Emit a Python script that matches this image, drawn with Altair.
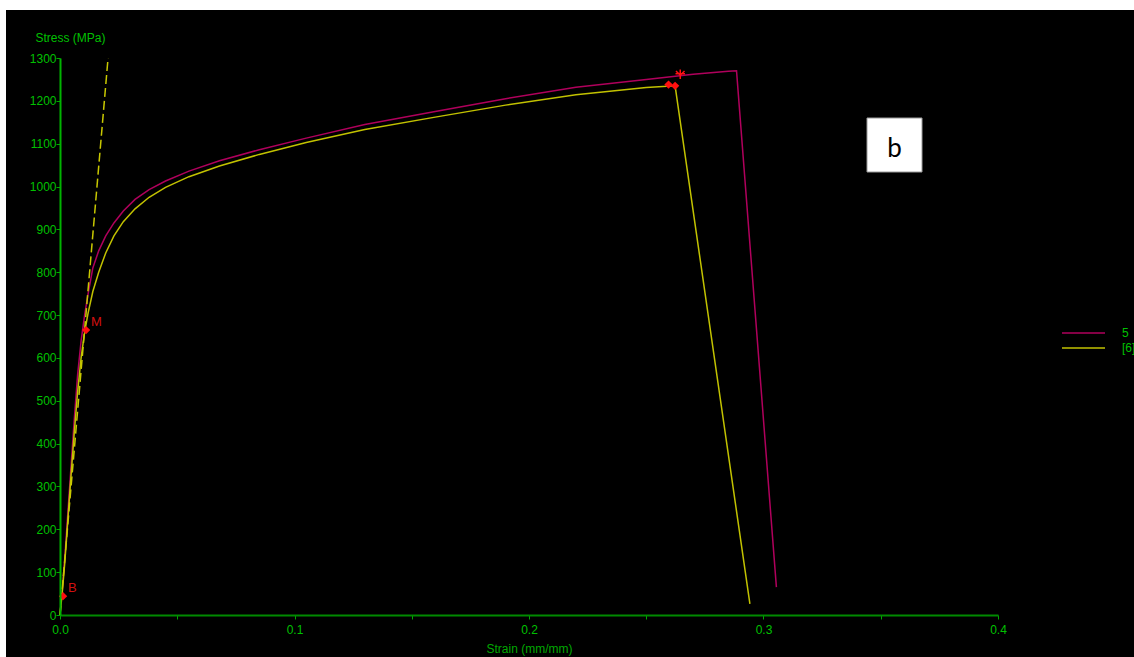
import altair as alt
import pandas as pd

# ---- test data: engineering stress-strain curves of two tensile specimens ----
series_names = ["5", "[6]"]
series_colors = ["#b0005c", "#c2c200"]

strain_5 = [0.0, 0.0010, 0.0020, 0.0030, 0.0045, 0.0060, 0.0075, 0.0090, 0.0105,
            0.0120, 0.0140, 0.0165, 0.0195, 0.0230, 0.0270, 0.0320, 0.0380, 0.0450,
            0.0550, 0.0680, 0.0850, 0.1050, 0.1300, 0.1600, 0.1900, 0.2200, 0.2500,
            0.2700, 0.2850, 0.2885, 0.3055]
stress_5 = [0, 60, 130, 210, 330, 450, 560, 640, 700,
            750, 810, 850, 885, 915, 943, 970, 993, 1013,
            1036, 1060, 1086, 1113, 1145, 1175, 1205, 1232, 1250,
            1262, 1269, 1270, 65]

strain_6 = [0.0, 0.0010, 0.0020, 0.0030, 0.0045, 0.0060, 0.0075, 0.0090, 0.0105,
            0.0120, 0.0140, 0.0165, 0.0195, 0.0230, 0.0270, 0.0320, 0.0380, 0.0450,
            0.0550, 0.0680, 0.0850, 0.1050, 0.1300, 0.1600, 0.1900, 0.2200, 0.2500,
            0.2623, 0.2942]
stress_6 = [0, 55, 120, 195, 310, 420, 520, 600, 660,
            705, 755, 800, 845, 885, 918, 948, 975, 998,
            1023, 1048, 1075, 1103, 1133, 1162, 1190, 1214, 1231,
            1235, 26]

# elastic modulus construction line
modulus_strain = [0.0, 0.0205]
modulus_stress = [0, 1300]

# analysis points (break-in, modulus, peak load)
marker_labels = ["B", "M", "", ""]
marker_strain = [0.0013, 0.0111, 0.2595, 0.2623]
marker_stress = [44, 665, 1238, 1235]

# fracture point
fracture_strain = [0.2645]
fracture_stress = [1262]

x_ticks = [0.0, 0.05, 0.1, 0.15, 0.2, 0.25, 0.3, 0.35, 0.4]
y_ticks = list(range(0, 1301, 50))

panel_label = "b"

# ---- tables ----
curves = pd.concat([
    pd.DataFrame({"strain": strain_5, "stress": stress_5, "specimen": series_names[0],
                  "step": range(len(strain_5))}),
    pd.DataFrame({"strain": strain_6, "stress": stress_6, "specimen": series_names[1],
                  "step": range(len(strain_6))}),
], ignore_index=True)
modulus = pd.DataFrame({"strain": modulus_strain, "stress": modulus_stress})
markers = pd.DataFrame({"strain": marker_strain, "stress": marker_stress, "label": marker_labels})
fracture = pd.DataFrame({"strain": fracture_strain, "stress": fracture_stress})
one_row = pd.DataFrame({"k": [0]})

FONT = "Liberation Sans"
GREEN = "#00c000"
AXIS_GREEN = "#00a800"

x_scale = alt.Scale(domain=[0, 0.4], nice=False, zero=False)
y_scale = alt.Scale(domain=[0, 1300], nice=False)

x_axis = alt.Axis(
    values=x_ticks,
    labelExpr="abs(datum.value * 10 - round(datum.value * 10)) < 0.001 ? format(datum.value, '.1f') : ''",
    grid=False, domainColor="#008a00", domainWidth=2, tickColor=AXIS_GREEN, tickSize=4,
    labelColor=GREEN, labelFont=FONT, labelFontSize=12, labelPadding=5, labelFlush=False,
    title="Strain (mm/mm)", titleColor="#00a800", titleFont=FONT, titleFontSize=12,
    titleFontWeight="normal", titleBaseline="middle", titleY=33, zindex=1,
)
y_axis = alt.Axis(
    values=y_ticks,
    labelExpr="datum.value % 100 == 0 ? format(datum.value, 'd') : ''",
    grid=False, domainColor="#00b400", domainWidth=2, tickColor=AXIS_GREEN, tickSize=4,
    labelColor=GREEN, labelFont=FONT, labelFontSize=12, labelPadding=0, labelFlush=False,
    title="Stress (MPa)", titleColor=GREEN, titleFont=FONT, titleFontSize=12,
    titleFontWeight="normal", titleAngle=0, titleAlign="center", titleBaseline="middle",
    titleX=10, titleY=-21, zindex=1,
)

# black instrument-screen backdrop
backdrop = alt.Chart(one_row).mark_rect(color="black").encode(
    x=alt.value(-54), x2=alt.value(1074), y=alt.value(-48), y2=alt.value(599)
)

lines = alt.Chart(curves).mark_line(strokeWidth=1.5).encode(
    x=alt.X("strain:Q", scale=x_scale, axis=x_axis),
    y=alt.Y("stress:Q", scale=y_scale, axis=y_axis),
    color=alt.Color(
        "specimen:N",
        scale=alt.Scale(domain=series_names, range=series_colors),
        legend=alt.Legend(
            title=None, orient="none", legendX=1001, legendY=269, padding=0,
            symbolType="M-1,0H7.6", symbolSize=100, symbolStrokeWidth=1.5,
            labelOffset=49, labelColor=GREEN, labelFont=FONT, labelFontSize=12,
            rowPadding=3,
        ),
    ),
    order="step:Q",
)

modulus_line = alt.Chart(modulus).mark_line(
    color="#c8c800", strokeWidth=1.5, strokeDash=[9, 4]
).encode(x="strain:Q", y="stress:Q")

marker_pts = alt.Chart(markers).mark_point(
    shape="diamond", filled=True, color="#ff1010", size=70, opacity=1
).encode(x="strain:Q", y="stress:Q")

marker_text = alt.Chart(markers).mark_text(
    align="left", baseline="middle", dx=5, dy=-8, color="#d01010", font=FONT, fontSize=13
).encode(x="strain:Q", y="stress:Q", text="label:N")

fracture_pt = alt.Chart(fracture).mark_point(
    shape="M0,-1L0,0.2M-0.9,-0.7L0,0.2L0.9,-0.7M-1,-0.1H1M0,0.2L0,1",
    color="#ff1010", size=90, strokeWidth=1.5, opacity=1
).encode(x="strain:Q", y="stress:Q")

label_box = alt.Chart(one_row).mark_rect(fill="white", stroke="#9a9a9a", strokeWidth=1).encode(
    x=alt.value(807), x2=alt.value(862), y=alt.value(60), y2=alt.value(114)
)
label_text = alt.Chart(one_row).mark_text(
    text=panel_label, font="Lato", fontSize=26, color="black", align="center", baseline="alphabetic"
).encode(x=alt.value(834.5), y=alt.value(98.5))

chart = alt.layer(
    backdrop, lines, modulus_line, marker_pts, marker_text, fracture_pt, label_box, label_text
).properties(
    width=938, height=557,
    autosize=alt.AutoSizeParams(type="none"),
    padding={"left": 60, "top": 58, "right": 136, "bottom": 42},
    background="white",
).configure_view(stroke=None)

chart.save("out.html", embed_options={"renderer": "svg", "actions": False})
